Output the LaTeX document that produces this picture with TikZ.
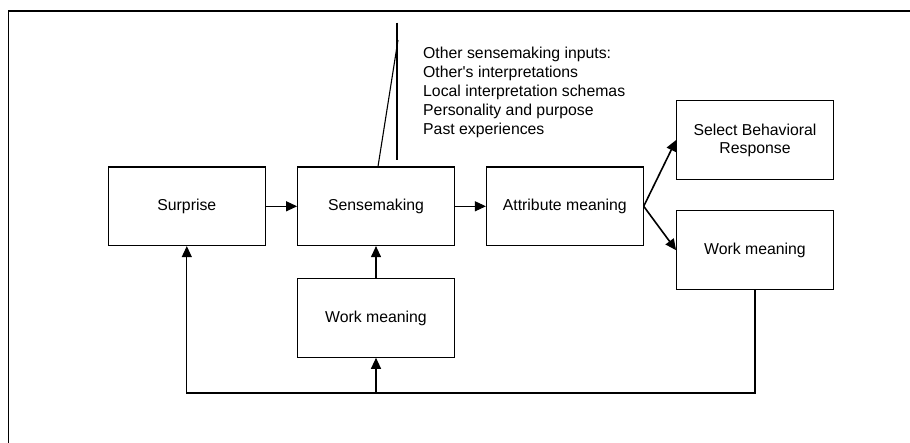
\documentclass[tikz,border=0pt]{standalone}
\usepackage{fontspec}
\setmainfont{Liberation Sans}
\usetikzlibrary{arrows.meta,calc}
\begin{document}
\begin{tikzpicture}[x=1pt,y=-1pt,
  box/.style={draw=black, line width=1.1pt, minimum width=156.7pt, minimum height=78.5pt,
    inner sep=0pt, align=center, font=\fontsize{15.8}{18}\selectfont},
  conn/.style={draw=black, line width=1.1pt, -{Triangle[length=11pt,width=10pt]}},
  branch/.style={conn, line width=1.6pt},
  plain/.style={draw=black, line width=1.1pt},
  frameline/.style={draw=black, line width=1.6pt},
  notes/.style={anchor=north west, inner sep=0pt, align=left, font=\fontsize{15.8}{19}\selectfont}]

% page and frame
\fill[white] (0,0) rectangle (910,443);
\useasboundingbox (0,0) rectangle (910,443);
\draw[frameline] (8.5,443) -- (8.5,11) -- (910,11);

% process boxes
\node[box] (sur) at (186.8,206.3) {Surprise};
\node[box] (sen) at (376,206.3) {Sensemaking};
\node[box] (att) at (564.8,206.3) {Attribute meaning};
\node[box] (sel) at (755,140) {Select Behavioral\\Response};
\node[box] (wr)  at (755,250.2) {Work meaning};
\node[box] (wl)  at (376,318) {Work meaning};

% list of further inputs
\node[notes] (inputs) at (423,46.5) {Other sensemaking inputs:\\
  Other\textquotesingle s interpretations\\
  Local interpretation schemas\\
  Personality and purpose\\
  Past experiences};

% bracket lines above sensemaking
\coordinate (vtop) at (397,22.7);
\coordinate (vbot) at (397,160);
\coordinate (stop) at (398,40);
\draw[plain] (vtop) -- (vbot);
\draw[plain] ([xshift=2pt]sen.north) -- (stop);

% main flow
\draw[conn] (sur.east) -- (sen.west);
\draw[conn] (sen.east) -- (att.west);
\draw[branch] (att.east) -- (sel.west);
\draw[branch] (att.east) -- (wr.west);
\draw[conn] (wl.north) -- (sen.south);

% feedback loop
\coordinate (fbm) at (376,393);
\draw[conn] (wr.south) |- (fbm) -| (sur.south);
\draw[conn] (fbm) -- (wl.south);
\draw[line width=2pt] (wr.south |- fbm) -- (fbm);
\end{tikzpicture}
\end{document}
